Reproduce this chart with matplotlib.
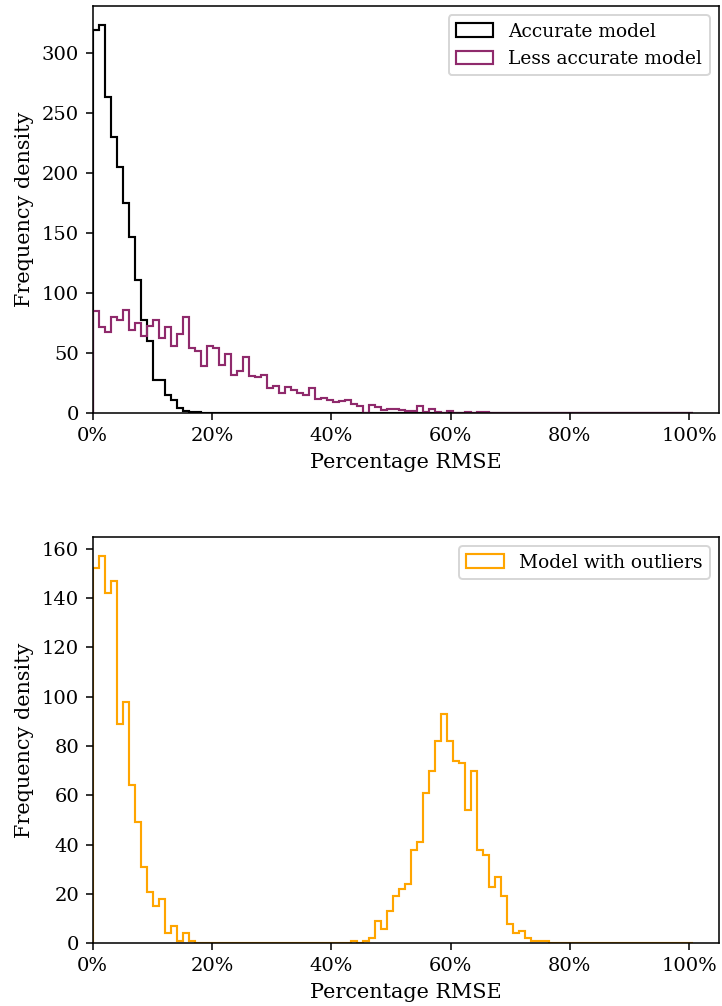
import numpy as np
import matplotlib
matplotlib.use("Agg")
import matplotlib.pyplot as plt
from matplotlib.ticker import PercentFormatter

# Histogram heights (frequency density), one value per bin.
# Bins are ~1% wide starting at 0.
BIN_WIDTH = 0.01007

accurate = [319, 323, 263, 230, 205, 175, 147, 111, 78, 60,
            28, 28, 15, 11, 4, 2, 1, 1]

less_accurate = [85, 72, 68, 80, 78, 86, 69, 75, 64, 73,
                 78, 63, 72, 56, 66, 80, 54, 52, 39, 56,
                 54, 40, 49, 32, 35, 47, 31, 30, 32, 21,
                 23, 17, 22, 19, 17, 15, 21, 12, 13, 11,
                 9, 10, 11, 8, 6, 0, 6.6, 5, 2.8, 3.9,
                 3.9, 2.8, 1.7, 1.9, 5.8, 1.1, 3.6, 0.8, 0.6, 1.7,
                 0.5, 0.3, 0.8, 0.3, 0.7, 0.7]

with_outliers = [152, 157, 142, 147, 89, 98, 64, 49, 31, 21,
                 15, 18, 4, 7, 1, 4, 1, 0, 0, 0,
                 0, 0, 0, 0, 0, 0, 0, 0, 0, 0,
                 0, 0, 0, 0, 0, 0, 0, 0, 0, 0,
                 0, 0, 0, 1, 0, 1, 2, 9, 6, 13,
                 19, 22, 24, 38, 41, 61, 70, 82, 93, 82,
                 74, 73, 54, 70, 38, 36, 23, 27, 19, 8,
                 4, 5, 2, 1, 1, 1]

N_BINS = 100
DPI = 140

plt.rcParams["font.family"] = "DejaVu Serif"
plt.rcParams["font.size"] = 10
plt.rcParams["axes.labelsize"] = 10.7
plt.rcParams["legend.fontsize"] = 9.6


def step_hist(ax, heights, color, label):
    h = np.zeros(N_BINS)
    h[:len(heights)] = heights
    edges = np.arange(N_BINS + 1) * BIN_WIDTH
    ax.hist(edges[:-1], bins=edges, weights=h, histtype="step",
            color=color, label=label, linewidth=1.1)


fig = plt.figure(figsize=(722 / DPI, 1006 / DPI), dpi=DPI)
ax1 = fig.add_axes([0.1284, 0.5892, 0.8674, 0.4051])
ax2 = fig.add_axes([0.1284, 0.0623, 0.8674, 0.4042])

step_hist(ax1, accurate, "black", "Accurate model")
step_hist(ax1, less_accurate, "#8f2a6c", "Less accurate model")
step_hist(ax2, with_outliers, "orange", "Model with outliers")

for ax in (ax1, ax2):
    ax.set_xlim(0, 1.05)
    ax.set_ylim(bottom=0)
    ax.xaxis.set_major_formatter(PercentFormatter(xmax=1, decimals=0))
    ax.set_xlabel("Percentage RMSE")
    ax.set_ylabel("Frequency density")
    ax.legend(loc="upper right")

fig.savefig("out.png", dpi=DPI)
